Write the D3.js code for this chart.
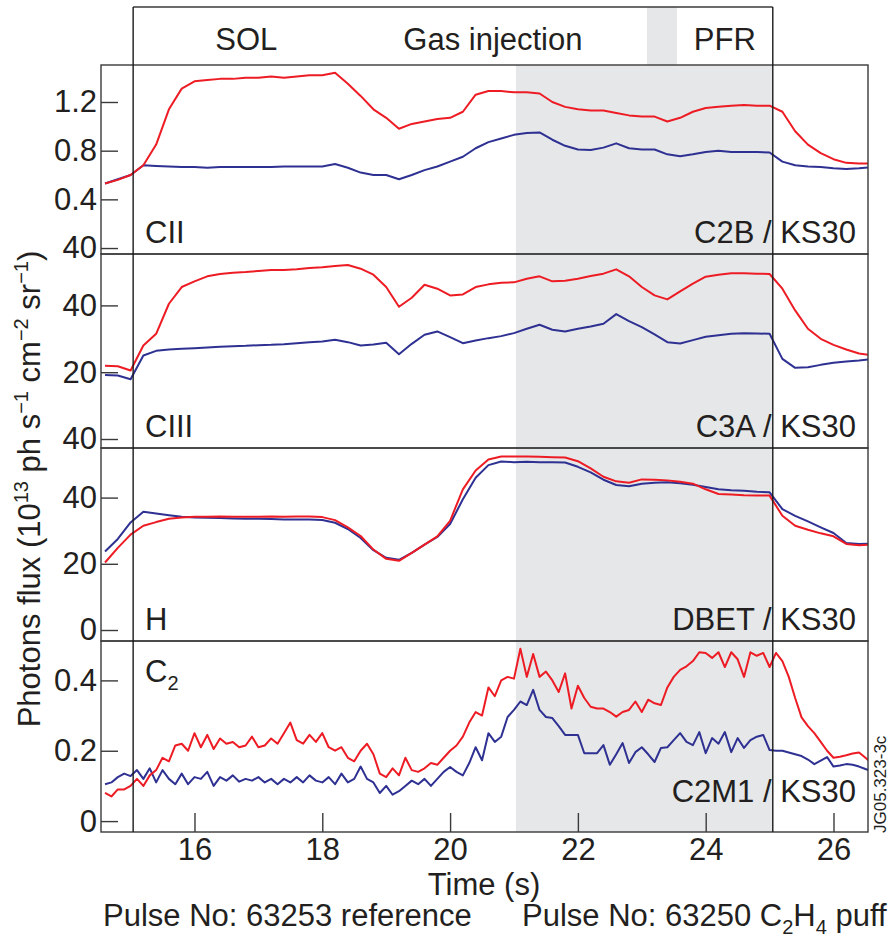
<!DOCTYPE html>
<html>
<head>
<meta charset="utf-8">
<script src="https://cdn.jsdelivr.net/npm/d3@7"></script>
<style>
  body { margin: 0; background: #fff; }
  svg { display: block; }
</style>
</head>
<body>
<div id="chart"></div>
<script>
// sample times (s) for the smooth signals, 0.2 s apart
const timeSmooth = [14.6, 14.8, 15.0, 15.2, 15.4, 15.6, 15.8, 16.0, 16.2, 16.4, 16.6, 16.8, 17.0, 17.2, 17.4, 17.6,
  17.8, 18.0, 18.2, 18.4, 18.6, 18.8, 19.0, 19.2, 19.4, 19.6, 19.8, 20.0, 20.2, 20.4, 20.6, 20.8, 21.0, 21.2, 21.4,
  21.6, 21.8, 22.0, 22.2, 22.4, 22.6, 22.8, 23.0, 23.2, 23.4, 23.6, 23.8, 24.0, 24.2, 24.4, 24.6, 24.8, 25.0, 25.2,
  25.4, 25.6, 25.8, 26.0, 26.2, 26.4, 26.6];
// sample times (s) for the noisy C2 signal, 0.1 s apart (14.6 .. 26.6)
const timeC2 = d3.range(146, 267).map(d => d / 10);

// CII  (C2B / KS30)
const ciiPuff = [0.53, 0.56, 0.60, 0.68, 0.85, 1.14, 1.31, 1.37, 1.38, 1.39, 1.39, 1.40, 1.40, 1.41, 1.40, 1.41,
  1.42, 1.42, 1.44, 1.35, 1.25, 1.14, 1.07, 0.98, 1.02, 1.04, 1.06, 1.07, 1.12, 1.26, 1.29, 1.29, 1.28, 1.28, 1.27,
  1.20, 1.16, 1.14, 1.13, 1.13, 1.11, 1.09, 1.08, 1.08, 1.04, 1.07, 1.12, 1.15, 1.16, 1.17, 1.175, 1.17, 1.17, 1.12,
  0.96, 0.85, 0.78, 0.73, 0.70, 0.695, 0.695];
const ciiRef = [0.53, 0.565, 0.60, 0.68, 0.675, 0.67, 0.665, 0.665, 0.66, 0.665, 0.665, 0.665, 0.665, 0.665, 0.67,
  0.67, 0.67, 0.67, 0.69, 0.66, 0.62, 0.60, 0.60, 0.565, 0.60, 0.64, 0.67, 0.71, 0.75, 0.82, 0.87, 0.90, 0.93, 0.945,
  0.95, 0.89, 0.84, 0.81, 0.805, 0.825, 0.86, 0.82, 0.81, 0.81, 0.77, 0.755, 0.77, 0.79, 0.80, 0.79, 0.79, 0.79,
  0.785, 0.71, 0.68, 0.67, 0.665, 0.655, 0.65, 0.655, 0.665];

// CIII  (C3A / KS30)
const ciiiPuff = [21.9, 21.8, 20.5, 28.0, 31.5, 40.5, 45.5, 47.2, 48.7, 49.4, 49.8, 50.0, 50.3, 50.6, 50.6, 50.8,
  51.2, 51.4, 51.8, 52.1, 51.0, 49.2, 45.5, 39.6, 42.3, 46.2, 45.0, 43.0, 43.3, 45.5, 46.3, 46.8, 46.9, 48.0, 48.7,
  47.2, 47.4, 48.0, 48.8, 49.5, 50.8, 48.7, 45.5, 43.0, 41.8, 44.2, 46.5, 48.6, 49.2, 49.6, 49.6, 49.5, 49.4, 45.0,
  38.5, 33.0, 30.0, 28.2, 26.8, 25.6, 25.1];
const ciiiRef = [19.2, 19.0, 17.9, 25.0, 26.4, 26.8, 27.0, 27.2, 27.4, 27.6, 27.8, 27.9, 28.1, 28.2, 28.4, 28.7,
  29.0, 29.2, 29.7, 29.0, 28.0, 28.3, 28.8, 25.4, 28.5, 31.2, 32.2, 30.5, 28.7, 29.5, 30.2, 30.8, 31.7, 33.0, 34.2,
  32.7, 32.2, 33.0, 33.7, 34.5, 37.4, 35.3, 33.5, 31.3, 29.0, 28.6, 29.6, 30.6, 31.1, 31.5, 31.7, 31.6, 31.5, 24.0,
  21.3, 21.5, 22.2, 22.8, 23.2, 23.5, 23.9];

// H  (DBET / KS30)
const hPuff = [20.4, 24.8, 28.8, 31.5, 32.6, 33.6, 34.0, 34.2, 34.2, 34.3, 34.2, 34.2, 34.2, 34.3, 34.2, 34.3, 34.3,
  34.1, 33.2, 31.0, 28.4, 24.3, 21.5, 20.9, 23.3, 25.8, 28.3, 33.0, 42.5, 48.2, 51.5, 52.4, 52.4, 52.4, 52.3, 52.2,
  52.1, 51.0, 48.8, 46.3, 44.9, 44.5, 45.5, 45.4, 45.2, 44.8, 44.2, 42.5, 41.1, 40.9, 40.7, 40.6, 40.6, 34.5, 31.5,
  30.3, 29.2, 28.3, 26.0, 25.6, 25.8];
const hRef = [23.7, 27.5, 32.5, 35.7, 35.2, 34.7, 34.2, 34.0, 33.9, 33.8, 33.7, 33.6, 33.6, 33.5, 33.4, 33.4, 33.4,
  33.2, 32.4, 30.5, 27.8, 24.1, 21.8, 21.2, 23.3, 25.8, 28.1, 32.0, 39.5, 46.0, 49.8, 50.9, 50.7, 50.8, 50.7, 50.7,
  50.6, 49.3, 47.6, 45.4, 43.8, 43.4, 44.2, 44.5, 44.6, 44.3, 43.9, 43.2, 42.5, 42.2, 42.1, 41.8, 41.6, 36.5, 34.5,
  32.8, 31.0, 29.3, 26.3, 26.0, 26.1];

// C2  (C2M1 / KS30)
const c2Puff = [0.08, 0.07, 0.09, 0.09,
  0.10, 0.12, 0.10, 0.13, 0.145, 0.18, 0.17, 0.215, 0.22, 0.20,
  0.25, 0.21, 0.245, 0.205, 0.235, 0.22, 0.225, 0.21, 0.215, 0.24,
  0.21, 0.215, 0.235, 0.22, 0.25, 0.28, 0.23, 0.22, 0.245, 0.225,
  0.25, 0.21, 0.20, 0.21, 0.18, 0.17, 0.20, 0.22, 0.19, 0.135,
  0.125, 0.15, 0.13, 0.18, 0.145, 0.14, 0.15, 0.165, 0.16, 0.18,
  0.20, 0.215, 0.24, 0.28, 0.31, 0.30, 0.38, 0.355, 0.40, 0.41,
  0.405, 0.49, 0.41, 0.475, 0.41, 0.425, 0.40, 0.367, 0.42, 0.32,
  0.385, 0.35, 0.325, 0.32, 0.32, 0.31, 0.297, 0.31, 0.316, 0.34,
  0.31, 0.345, 0.335, 0.33, 0.38, 0.41, 0.43, 0.44, 0.455, 0.48,
  0.478, 0.464, 0.48, 0.438, 0.48, 0.46, 0.41, 0.48, 0.47, 0.478,
  0.438, 0.478, 0.455, 0.41, 0.35, 0.295, 0.27, 0.25, 0.225, 0.20,
  0.18, 0.183, 0.187, 0.192, 0.195, 0.18, 0.165];
const c2Ref = [0.105, 0.11, 0.125, 0.135,
  0.128, 0.145, 0.12, 0.15, 0.11, 0.145, 0.12, 0.105, 0.135, 0.105,
  0.125, 0.12, 0.14, 0.10, 0.125, 0.115, 0.13, 0.112, 0.12, 0.115,
  0.125, 0.11, 0.12, 0.105, 0.12, 0.11, 0.125, 0.11, 0.13, 0.115,
  0.11, 0.125, 0.105, 0.135, 0.11, 0.12, 0.155, 0.12, 0.11, 0.08,
  0.10, 0.075, 0.085, 0.10, 0.115, 0.105, 0.12, 0.10, 0.12, 0.14,
  0.154, 0.14, 0.13, 0.165, 0.21, 0.173, 0.25, 0.225, 0.24, 0.296,
  0.316, 0.34, 0.33, 0.373, 0.316, 0.296, 0.293, 0.27, 0.245, 0.245,
  0.245, 0.193, 0.193, 0.193, 0.216, 0.16, 0.19, 0.222, 0.165, 0.196,
  0.21, 0.19, 0.168, 0.208, 0.21, 0.23, 0.25, 0.225, 0.216, 0.253,
  0.193, 0.236, 0.22, 0.253, 0.196, 0.236, 0.208, 0.23, 0.24, 0.245,
  0.202, 0.20, 0.20, 0.195, 0.19, 0.185, 0.175, 0.162, 0.172, 0.182,
  0.155, 0.158, 0.162, 0.16, 0.155, 0.148, 0.142];

// axis ticks and labels (labels copied as printed on the figure)
const ciiTicks = [0, 0.4, 0.8, 1.2];
const ciiTickLabels = ['40', '0.4', '0.8', '1.2'];
const ciiiTicks = [0, 20, 40];
const ciiiTickLabels = ['40', '20', '40'];
const hTicks = [0, 20, 40];
const hTickLabels = ['0', '20', '40'];
const c2Ticks = [0, 0.2, 0.4];
const c2TickLabels = ['0', '0.2', '0.4'];
const timeTicks = [16, 18, 20, 22, 24, 26];

// phases (s)
const phaseNames = ['SOL', 'Gas injection', 'PFR'];
const phaseLabelTimes = [16.81, 20.67, 24.3];
const pulseStart = 15.04;
const pulseEnd = 25.05;
const shadeStart = 21.03;
const headerShade = [23.08, 23.55];

const RED = '#ed1c24', BLUE = '#2e3192', INK = '#231f20', FRAME = '#3a3a3a', SHADE = '#e6e7e8';
const FONT = '"Liberation Sans", Arial, Helvetica, sans-serif';
const FS = '31px', FS_SMALL = '20px';

const width = 892, height = 939;
const left = 101, right = 868, headerTop = 7;
const panelTops = [65, 254, 448, 641], plotBottom = 832;

const panels = [
  { name: 'CII', tag: 'C2B / KS30', t: timeSmooth, puff: ciiPuff, ref: ciiRef, domain: [-0.049, 1.504], ticks: ciiTicks, labels: ciiTickLabels },
  { name: 'CIII', tag: 'C3A / KS30', t: timeSmooth, puff: ciiiPuff, ref: ciiiRef, domain: [-2.69, 55.39], ticks: ciiiTicks, labels: ciiiTickLabels },
  { name: 'H', tag: 'DBET / KS30', t: timeSmooth, puff: hPuff, ref: hRef, domain: [-3.32, 54.98], ticks: hTicks, labels: hTickLabels },
  { name: 'C', sub: '2', tag: 'C2M1 / KS30', t: timeC2, puff: c2Puff, ref: c2Ref, domain: [-0.031, 0.512], ticks: c2Ticks, labels: c2TickLabels }
];

const svg = d3.select('#chart').append('svg')
  .attr('width', width)
  .attr('height', height)
  .style('font-family', FONT);

const x = d3.scaleLinear().domain([14.537, 26.54]).range([left, right]);

// shaded gas-injection window and header band
svg.append('rect')
  .attr('x', x(shadeStart)).attr('y', panelTops[0])
  .attr('width', x(pulseEnd) - x(shadeStart)).attr('height', plotBottom - panelTops[0])
  .attr('fill', SHADE);
svg.append('rect')
  .attr('x', x(headerShade[0])).attr('y', headerTop)
  .attr('width', x(headerShade[1]) - x(headerShade[0])).attr('height', panelTops[0] - headerTop)
  .attr('fill', SHADE);

const defs = svg.append('defs');

panels.forEach((p, i) => {
  const top = panelTops[i];
  const bottom = i < 3 ? panelTops[i + 1] : plotBottom;
  const y = d3.scaleLinear().domain(p.domain).range([bottom, top]);

  defs.append('clipPath').attr('id', 'clip' + i)
    .append('rect').attr('x', left).attr('y', top).attr('width', right - left).attr('height', bottom - top);

  const line = d3.line()
    .x((d, j) => x(p.t[j]))
    .y(d => y(d));

  const g = svg.append('g').attr('clip-path', `url(#clip${i})`);
  g.append('path').datum(p.ref)
    .attr('fill', 'none').attr('stroke', BLUE).attr('stroke-width', 2).attr('stroke-linejoin', 'round')
    .attr('d', line);
  g.append('path').datum(p.puff)
    .attr('fill', 'none').attr('stroke', RED).attr('stroke-width', 2).attr('stroke-linejoin', 'round')
    .attr('d', line);

  // frame
  svg.append('rect')
    .attr('x', left).attr('y', top).attr('width', right - left).attr('height', bottom - top)
    .attr('fill', 'none').attr('stroke', FRAME).attr('stroke-width', 1.4);

  // y axis, ticks pointing inwards
  const ax = svg.append('g')
    .attr('transform', `translate(${left},0)`)
    .call(d3.axisLeft(y).tickValues(p.ticks).tickFormat((d, k) => p.labels[k])
      .tickSizeInner(-17).tickSizeOuter(0).tickPadding(4));
  ax.select('.domain').remove();
  ax.selectAll('line').attr('stroke', FRAME).attr('stroke-width', 1.4);
  ax.selectAll('text').attr('fill', INK).style('font-size', FS).style('font-family', FONT);

  // panel labels
  const nameText = svg.append('text')
    .attr('x', 145).attr('y', i < 3 ? bottom - 11 : top + 41)
    .attr('fill', INK).style('font-size', FS)
    .text(p.name);
  if (p.sub) {
    nameText.append('tspan').attr('dy', 8).style('font-size', FS_SMALL).text(p.sub);
  }
  svg.append('text')
    .attr('x', 856).attr('y', i < 3 ? bottom - 11 : bottom - 30)
    .attr('text-anchor', 'end')
    .attr('fill', INK).style('font-size', FS)
    .text(p.tag);
});

// time axis
const xAxis = svg.append('g')
  .attr('transform', `translate(0,${plotBottom})`)
  .call(d3.axisBottom(x).tickValues(timeTicks).tickFormat(d3.format('d'))
    .tickSizeInner(-19).tickSizeOuter(0).tickPadding(6));
xAxis.select('.domain').remove();
xAxis.selectAll('line').attr('stroke', FRAME).attr('stroke-width', 1.4);
xAxis.selectAll('text').attr('fill', INK).style('font-size', FS).style('font-family', FONT);

// header box and pulse boundaries
svg.append('line')
  .attr('x1', x(pulseStart)).attr('x2', x(pulseEnd))
  .attr('y1', headerTop).attr('y2', headerTop)
  .attr('stroke', FRAME).attr('stroke-width', 1.4);
[pulseStart, pulseEnd].forEach(t => {
  svg.append('line')
    .attr('x1', x(t)).attr('x2', x(t))
    .attr('y1', headerTop).attr('y2', plotBottom)
    .attr('stroke', '#1a1a1a').attr('stroke-width', 1.4);
});

svg.selectAll('.phase')
  .data(phaseNames)
  .enter().append('text')
  .attr('class', 'phase')
  .attr('x', (d, k) => x(phaseLabelTimes[k]))
  .attr('y', 50)
  .attr('text-anchor', 'middle')
  .attr('fill', INK).style('font-size', FS)
  .text(d => d);

// y axis title
const yTitle = svg.append('text')
  .attr('transform', 'translate(40,489) rotate(-90)')
  .attr('text-anchor', 'middle')
  .attr('fill', INK).style('font-size', FS);
yTitle.append('tspan').text('Photons flux (10');
yTitle.append('tspan').attr('dy', -12).style('font-size', FS_SMALL).text('13');
yTitle.append('tspan').attr('dy', 12).text(' ph s');
yTitle.append('tspan').attr('dy', -12).style('font-size', FS_SMALL).text('\u22121');
yTitle.append('tspan').attr('dy', 12).text(' cm');
yTitle.append('tspan').attr('dy', -12).style('font-size', FS_SMALL).text('\u22122');
yTitle.append('tspan').attr('dy', 12).text(' sr');
yTitle.append('tspan').attr('dy', -12).style('font-size', FS_SMALL).text('\u22121');
yTitle.append('tspan').attr('dy', 12).text(')');

// x axis title and pulse captions
svg.append('text')
  .attr('x', 484).attr('y', 895)
  .attr('text-anchor', 'middle')
  .attr('fill', INK).style('font-size', FS)
  .text('Time (s)');

svg.append('text')
  .attr('x', 103).attr('y', 926)
  .attr('fill', INK).style('font-size', FS)
  .text('Pulse No: 63253 reference');

const puffCaption = svg.append('text')
  .attr('x', 522).attr('y', 926)
  .attr('fill', INK).style('font-size', FS);
puffCaption.append('tspan').text('Pulse No: 63250 C');
puffCaption.append('tspan').attr('dy', 8).style('font-size', FS_SMALL).text('2');
puffCaption.append('tspan').attr('dy', -8).text('H');
puffCaption.append('tspan').attr('dy', 8).style('font-size', FS_SMALL).text('4');
puffCaption.append('tspan').attr('dy', -8).text(' puff');

// figure reference
svg.append('text')
  .attr('transform', 'translate(886,833) rotate(-90)')
  .attr('fill', INK).style('font-size', '17px')
  .text('JG05.323-3c');
</script>
</body>
</html>
